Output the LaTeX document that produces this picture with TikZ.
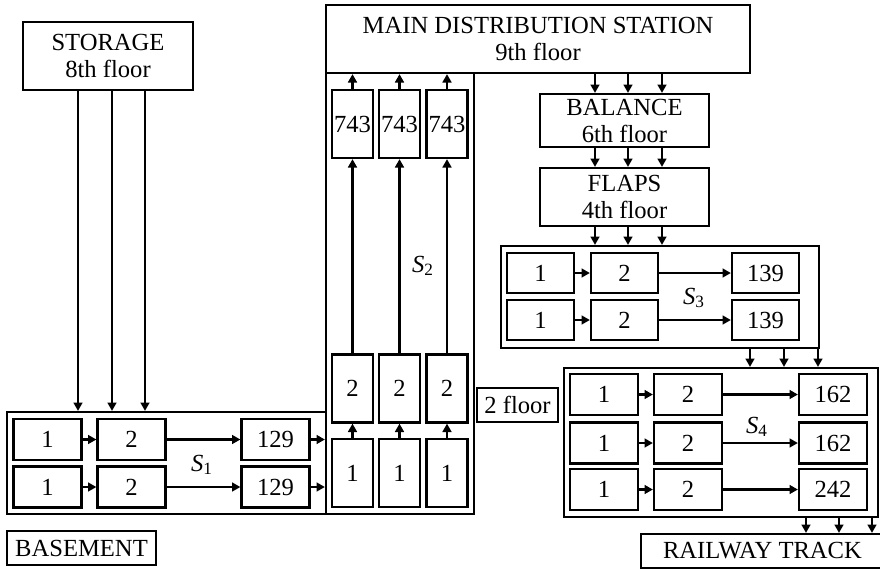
\documentclass[tikz,border=0pt]{standalone}
\usepackage{fontspec}
\setmainfont{Liberation Serif}
\usetikzlibrary{arrows.meta}

\begin{document}
\begin{tikzpicture}[x=.5pt,y=-.5pt,font=\fontsize{12.3}{13.5}\selectfont,
  >={Triangle[length=4.2pt,width=4.4pt]},
  cell/.style={draw,line width=1.1pt,inner sep=0pt,minimum width=34pt,minimum height=20.5pt},
  tall/.style={cell,minimum width=20.5pt,minimum height=34pt},
  grp/.style={draw,line width=1.1pt,inner sep=0pt,align=center},
  arr/.style={->,line width=1.1pt}]
\useasboundingbox (0,0) rectangle (880,569);
% floors
\node[grp,minimum width=85pt,minimum height=34pt] (stor) at (108,56) {STORAGE\\8th floor};
\node[grp,minimum width=212pt,minimum height=34pt] (main) at (538,39) {MAIN DISTRIBUTION STATION\\9th floor};
\node[grp,minimum width=84.5pt,minimum height=26.5pt] (bal) at (624.5,120.5) {BALANCE\\6th floor};
\node[grp,minimum width=84.5pt,minimum height=29pt] (flaps) at (624.5,197) {FLAPS\\4th floor};
\node[grp,minimum width=40.5pt,minimum height=17pt] (floor) at (517.5,405) {2 floor};
\node[grp,minimum width=74.5pt,minimum height=17pt] (base) at (81.5,548) {BASEMENT};
\node[grp,minimum width=121.5pt,minimum height=17pt] (rail) at (762.5,551) {RAILWAY TRACK};
% sections
\node[grp,minimum width=159.5pt,minimum height=51pt] (s1) at (166.5,463) {};
\node[grp,minimum width=74pt,minimum height=220.5pt] (s2) at (400,293.5) {};
\node[grp,minimum width=159pt,minimum height=51pt] (s3) at (660,297) {};
\node[grp,minimum width=157pt,minimum height=74.5pt] (s4) at (721,442.5) {};
\node (lab1) at (202,465) {\textit{S}\textsubscript{1}};
\node (lab2) at (423,266) {\textit{S}\textsubscript{2}};
\node (lab3) at (694,298) {\textit{S}\textsubscript{3}};
\node (lab4) at (757,427) {\textit{S}\textsubscript{4}};
% S1
\foreach \r/\y in {1/439.5,2/487}{
  \node[cell] (sa\r) at (47.5,\y) {1};
  \node[cell] (sb\r) at (131.5,\y) {2};
  \node[cell] (sc\r) at (275.5,\y) {129};
  \draw[arr] (sa\r) -- (sb\r);
  \draw[arr] (sb\r) -- (sc\r);
  \draw[arr] (sc\r) -- (sc\r -| s2.west);
}
\foreach \x in {78,112,145}
  \draw[arr] (\x,0 |- stor.south) -- (\x,0 |- s1.north);
% S2
\foreach \c/\x in {1/352.5,2/399.5,3/447}{
  \node[tall] (ta\c) at (\x,473) {1};
  \node[tall] (tb\c) at (\x,388.5) {2};
  \node[tall] (tc\c) at (\x,124) {743};
  \draw[arr] (ta\c) -- (tb\c);
  \draw[arr] (tb\c) -- (tc\c);
  \draw[arr] (tc\c) -- (tc\c |- main.south);
}
% distribution
\foreach \x in {595,628,662}{
  \draw[arr] (\x,0 |- main.south) -- (\x,0 |- bal.north);
  \draw[arr] (\x,0 |- bal.south) -- (\x,0 |- flaps.north);
  \draw[arr] (\x,0 |- flaps.south) -- (\x,0 |- s3.north);
}
% S3
\foreach \r/\y in {1/273,2/320}{
  \node[cell,minimum width=33.5pt,minimum height=20pt] (ua\r) at (540.5,\y) {1};
  \node[cell,minimum width=33.5pt,minimum height=20pt] (ub\r) at (624.5,\y) {2};
  \node[cell,minimum width=33.5pt,minimum height=20pt] (uc\r) at (765.5,\y) {139};
  \draw[arr] (ua\r) -- (ub\r);
  \draw[arr] (ub\r) -- (uc\r);
}
\foreach \x in {750,784,818}
  \draw[arr] (\x,0 |- s3.south) -- (\x,0 |- s4.north);
% S4
\foreach \r/\y/\n in {1/394.5/162,2/443/162,3/489.5/242}{
  \node[cell] (va\r) at (604,\y) {1};
  \node[cell] (vb\r) at (688,\y) {2};
  \node[cell] (vc\r) at (833,\y) {\n};
  \draw[arr] (va\r) -- (vb\r);
  \draw[arr] (vb\r) -- (vc\r);
}
\foreach \x in {806,839,872}
  \draw[arr] (\x,0 |- s4.south) -- (\x,0 |- rail.north);
\end{tikzpicture}
\end{document}
